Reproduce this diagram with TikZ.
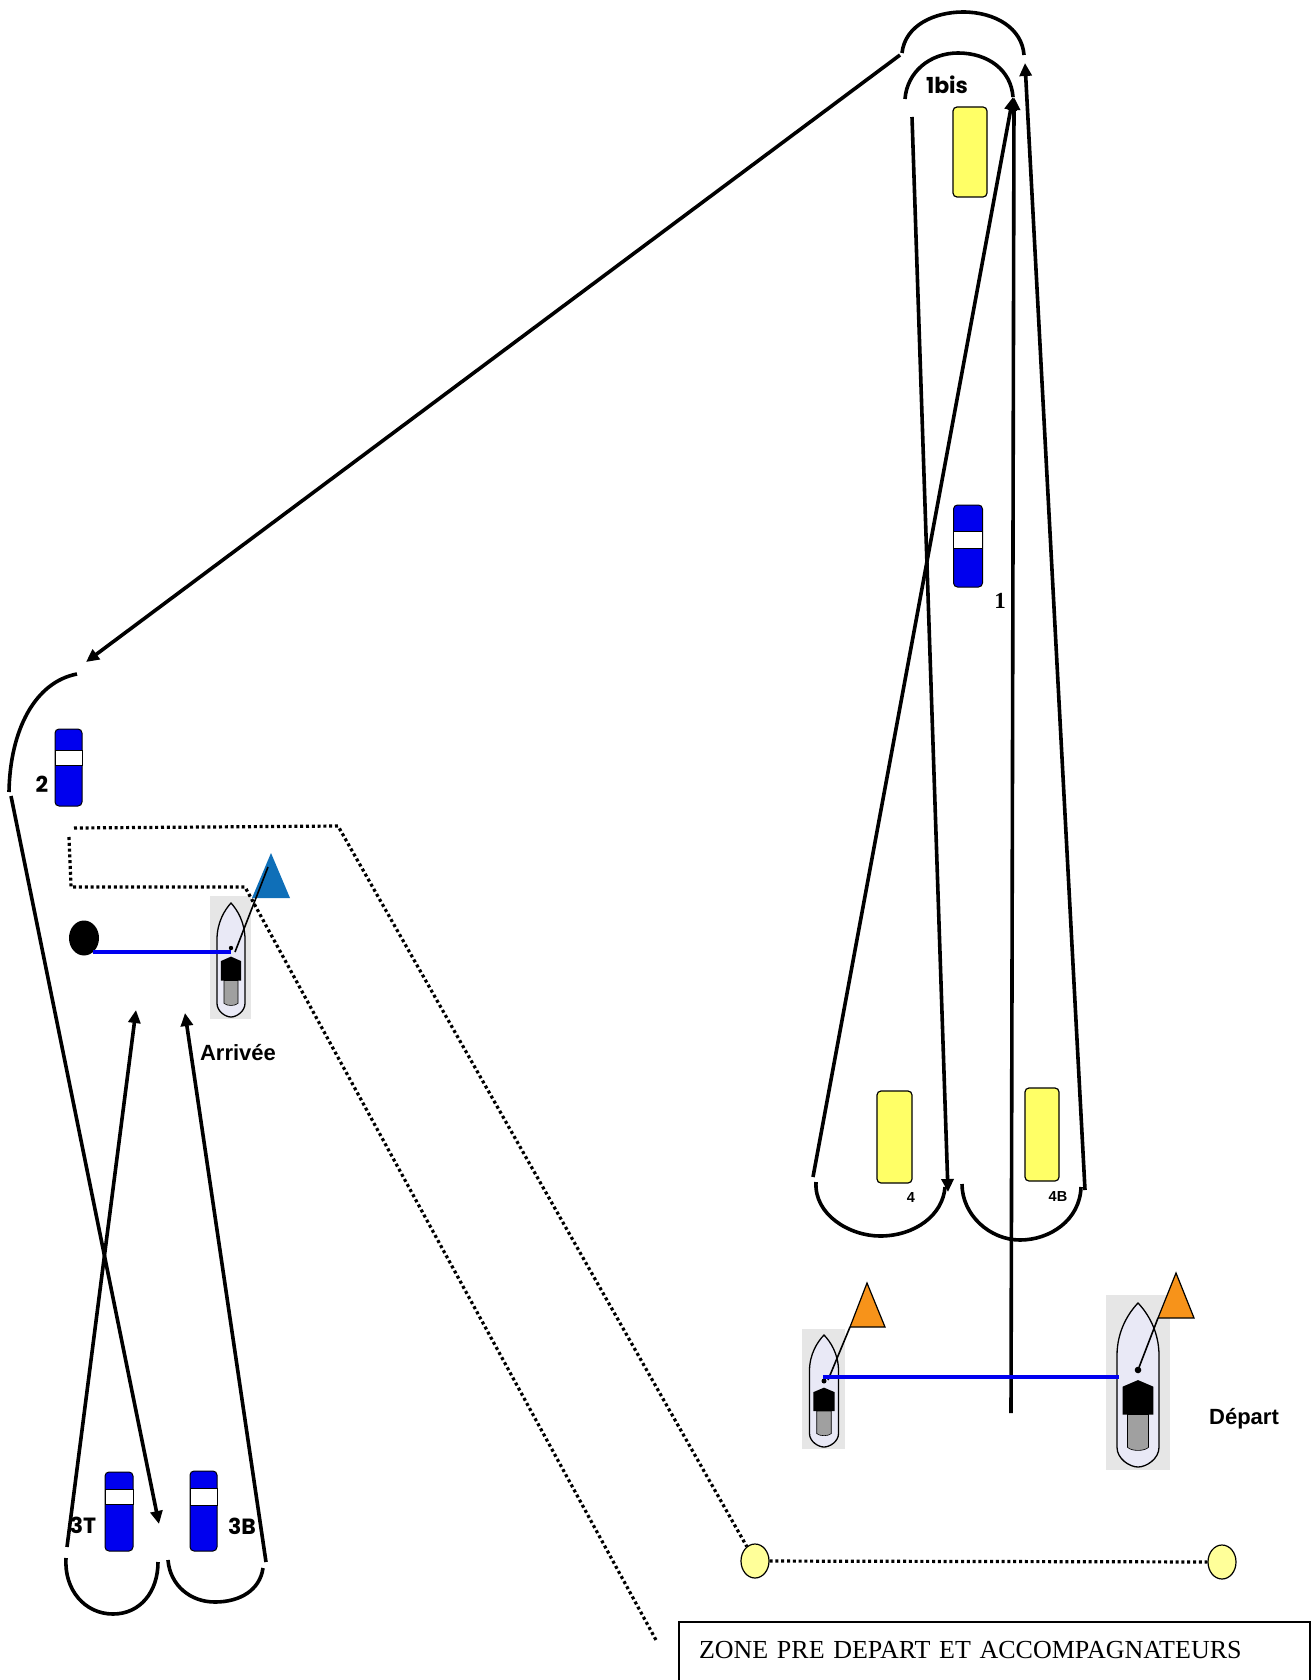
\documentclass[tikz,border=0pt]{standalone}
\usepackage{fontspec}
\usetikzlibrary{arrows.meta,shapes.geometric}
\setmainfont{Liberation Serif}
\newfontfamily\labsans{Liberation Sans}
\newfontfamily\labcomic{Poppins}
\definecolor{buoyblue}{HTML}{0000EE}
\definecolor{buoyyellow}{HTML}{FFFF66}
\definecolor{marklight}{HTML}{FFFF99}
\definecolor{flagorange}{HTML}{F7931A}
\definecolor{flagblue}{HTML}{0F6FB8}
\definecolor{hullfill}{HTML}{E9E9F6}
\definecolor{photobg}{HTML}{E6E6E6}
\definecolor{sternfill}{HTML}{A0A0A0}
\definecolor{courseblue}{HTML}{0000F0}
\tikzset{
  course/.style={line width=3.6pt,black},
  coursearrow/.style={course,-{Triangle[length=13pt,width=12pt]},shorten >=0pt},
  rope/.style={line width=4pt,courseblue},
  dotline/.style={line width=3.2pt,black,dash pattern=on 3pt off 2.8pt},
  buoybody/.style={draw=black,line width=1pt,rounded corners=4pt,inner sep=0pt},
  bluebuoy/.style={buoybody,fill=buoyblue},
  yellowbuoy/.style={buoybody,fill=buoyyellow,line width=1.2pt},
  buoyband/.style={draw=black,line width=0.8pt,fill=white,inner sep=0pt},
  markdisc/.style={ellipse,draw=black,line width=1.2pt,fill=marklight,minimum width=28pt,minimum height=34pt,inner sep=0pt},
  flagline/.style={line width=1.6pt,black},
  sanslab/.style={font=\labsans\bfseries\fontsize{22}{24}\selectfont,inner sep=0pt},
  comiclab/.style={font=\labcomic\bfseries\fontsize{22}{24}\selectfont,inner sep=0pt},
}
\newcommand{\drawboat}[8]{% x0 x1 y0 y1 cx tip L hw
  \fill[photobg] (#1,#3) rectangle (#2,#4);
  \begin{scope}[shift={(#5,#6)},xscale=#8,yscale=#7]
    \draw[fill=hullfill,line width=1.3pt] (0,0) .. controls (0.45,0.06) and (1,0.17) .. (1,0.32) -- (1,0.88)
      .. controls (1,0.95) and (0.4,1) .. (0,1) .. controls (-0.4,1) and (-1,0.95) .. (-1,0.88) -- (-1,0.32)
      .. controls (-1,0.17) and (-0.45,0.06) .. (0,0) -- cycle;
    \fill[black] (-0.73,0.68) -- (-0.73,0.51) -- (0,0.47) -- (0.73,0.51) -- (0.73,0.68) -- cycle;
    \draw[fill=sternfill,line width=0.6pt] (-0.5,0.68) -- (-0.5,0.88) .. controls (-0.3,0.905) and (0.3,0.905) .. (0.5,0.88) -- (0.5,0.68) -- cycle;
  \end{scope}
}
\newcommand{\bluemark}[7]{% name cx cy w h bandcy bandh
  \node[bluebuoy,minimum width=#4pt,minimum height=#5pt] (#1) at (#2,#3) {};
  \node[buoyband,minimum width=#4pt,minimum height=#7pt] (#1band) at (#2,#6) {};
}
\begin{document}
\begin{tikzpicture}[x=1pt,y=-1pt]
\useasboundingbox (0,0) rectangle (1310,1680);

% anchors of the course lines
\coordinate (outerA) at (902,53);
\coordinate (outerTop) at (963,12);
\coordinate (outerB) at (1024,55);
\coordinate (innerA) at (905,99);
\coordinate (innerTop) at (958,53);
\coordinate (innerB) at (1013,97);
\coordinate (fourA) at (816,1182);
\coordinate (fourBot) at (880,1236);
\coordinate (fourB) at (945,1187);
\coordinate (ffA) at (962,1184);
\coordinate (ffBot) at (1020,1240);
\coordinate (ffB) at (1081,1187);
\coordinate (twoA) at (77,674);
\coordinate (twoB) at (9,792);
\coordinate (ttA) at (66,1558);
\coordinate (ttBot) at (113,1614);
\coordinate (ttB) at (158,1562);
\coordinate (tbA) at (168,1560);
\coordinate (tbBot) at (215,1602);
\coordinate (tbB) at (263,1568);

% boats
\drawboat{802}{845}{1329}{1449}{824}{1335}{112}{14.5}
\drawboat{1106}{1170}{1295}{1470}{1138}{1303}{164}{21}
\drawboat{210}{251}{896}{1019}{231}{903}{114}{14}

% labels set beneath the lines
\node[comiclab] (lab3T) at (83,1525) {3T};
\node[comiclab] (lab3B) at (242,1526) {3B};
\node[comiclab] (lab1bis) at (947,85) {1bis};
\node[comiclab] (lab2) at (42,784) {2};

% buoys
\node[yellowbuoy,minimum width=34pt,minimum height=90pt] (y1bis) at (970,152) {};
\node[yellowbuoy,minimum width=35pt,minimum height=92pt] (y4) at (894.5,1137) {};
\node[yellowbuoy,minimum width=34pt,minimum height=93pt] (y4B) at (1042,1134.5) {};
\bluemark{b1}{968}{546}{29}{82}{539.5}{17}
\bluemark{b2}{68.5}{767.5}{27}{77}{757.5}{15}
\bluemark{b3T}{119}{1511.5}{28}{79}{1496.5}{15}
\bluemark{b3B}{203.5}{1511}{27}{80}{1496.5}{17}

% turning arcs
\draw[course] (outerA) .. controls (905,25) and (935,12) .. (outerTop) .. controls (995,12) and (1022,28) .. (outerB);
\draw[course] (innerA) .. controls (907,72) and (930,53) .. (innerTop) .. controls (988,53) and (1011,70) .. (innerB);
\draw[course] (fourA) .. controls (814,1215) and (850,1236) .. (fourBot) .. controls (915,1236) and (943,1215) .. (fourB);
\draw[course] (ffA) .. controls (962,1215) and (990,1240) .. (ffBot) .. controls (1050,1240) and (1080,1220) .. (ffB);
\draw[course] (twoA) .. controls (35,682) and (10,730) .. (twoB);
\draw[course] (ttA) .. controls (64,1590) and (85,1614) .. (ttBot) .. controls (140,1614) and (158,1592) .. (ttB);
\draw[course] (tbA) .. controls (170,1585) and (190,1602) .. (tbBot) .. controls (240,1602) and (260,1590) .. (tbB);

% straight legs
\coordinate (startOrig) at (1011,1413);
\coordinate (topTip) at (1014,97);
\coordinate (leg1From) at (813,1177);
\coordinate (leg1To) at (1013,97);
\coordinate (legDownFrom) at (912,117);
\coordinate (legDownTo) at (948,1192);
\coordinate (legUpFrom) at (1085,1190);
\coordinate (legUpTo) at (1025,63);
\coordinate (diagFrom) at (900,55);
\coordinate (diagTo) at (86,662);
\coordinate (twoFrom) at (11,796);
\coordinate (twoTo) at (159,1524);
\coordinate (ttFrom) at (67,1547);
\coordinate (ttTo) at (136,1010);
\coordinate (tbFrom) at (266,1562);
\coordinate (tbTo) at (185,1013);
\draw[coursearrow] (startOrig) -- (topTip);
\draw[coursearrow] (leg1From) -- (leg1To);
\draw[coursearrow] (legDownFrom) -- (legDownTo);
\draw[coursearrow] (legUpFrom) -- (legUpTo);
\draw[coursearrow] (diagFrom) -- (diagTo);
\draw[coursearrow] (twoFrom) -- (twoTo);
\draw[coursearrow] (ttFrom) -- (ttTo);
\draw[coursearrow] (tbFrom) -- (tbTo);

% flags
\coordinate (flagSA) at (867,1283); \coordinate (flagSB) at (850,1327); \coordinate (flagSC) at (885,1327);
\coordinate (flagLA) at (1176,1273); \coordinate (flagLB) at (1158,1318); \coordinate (flagLC) at (1194,1318);
\coordinate (flagAA) at (271,853); \coordinate (flagAB) at (252,898); \coordinate (flagAC) at (290,898);
\draw[fill=flagorange,line width=1.2pt] (flagSA) -- (flagSB) -- (flagSC) -- cycle;
\draw[fill=flagorange,line width=1.2pt] (flagLA) -- (flagLB) -- (flagLC) -- cycle;
\fill[flagblue] (flagAA) -- (flagAB) -- (flagAC) -- cycle;
\fill (824,1381) circle (2.5pt) coordinate (poleS);
\fill (1138,1370) circle (3.3pt) coordinate (poleL);
\fill (231,948) circle (2.2pt) coordinate (poleA);
\coordinate (flagAtop) at (268,867);
\coordinate (flagAfoot) at (235,952);
\coordinate (flagSfoot) at (828,1380);
\draw[flagline] (flagSB) -- (flagSfoot);
\draw[flagline] (flagLB) -- (poleL);
\draw[flagline] (flagAtop) -- (flagAfoot);

% start and finish lines
\coordinate (ropeSL) at (823,1377);
\coordinate (ropeSR) at (1119,1377);
\draw[rope] (ropeSL) -- (ropeSR);
\node[ellipse,fill=black,minimum width=30pt,minimum height=35pt,inner sep=0pt] (finishbuoy) at (84,938) {};
\coordinate (ropeAL) at (93,952);
\coordinate (ropeAR) at (231,952);
\draw[rope] (ropeAL) -- (ropeAR);

% pre-start zone
\node[markdisc] (zoneL) at (755,1561) {};
\node[markdisc] (zoneR) at (1222,1562) {};
\coordinate (zc1) at (74,828);
\coordinate (zc2) at (338,826);
\coordinate (zc3) at (69,837);
\coordinate (zc4) at (71,887);
\coordinate (zc5) at (245,887);
\coordinate (zc6) at (656,1640);
\draw[dotline] (zc1) -- (zc2) -- (zoneL);
\draw[dotline] (zc3) -- (zc4) -- (zc5) -- (zc6);
\draw[dotline] (zoneL) -- (zoneR);

% remaining labels
\node[font=\bfseries\fontsize{23}{25}\selectfont,inner sep=0pt] (lab1) at (1000,601) {1};
\node[font=\labsans\bfseries\fontsize{14.5}{16}\selectfont,inner sep=0pt] (lab4) at (911,1197) {4};
\node[font=\labsans\bfseries\fontsize{14.5}{16}\selectfont,inner sep=0pt] (lab4B) at (1058,1196) {4B};
\node[sanslab] (arr) at (238,1053) {Arrivée};
\node[sanslab] (dep) at (1244,1419) {Départ};
\node[draw=black,line width=2pt,anchor=north west,text width=591pt,align=left,inner xsep=20pt,inner ysep=8pt,
      text height=28pt,text depth=36pt,font=\fontsize{26}{28}\selectfont] (zonebox) at (678,1621)
  {ZONE PRE DEPART ET ACCOMPAGNATEURS};
\end{tikzpicture}
\end{document}
